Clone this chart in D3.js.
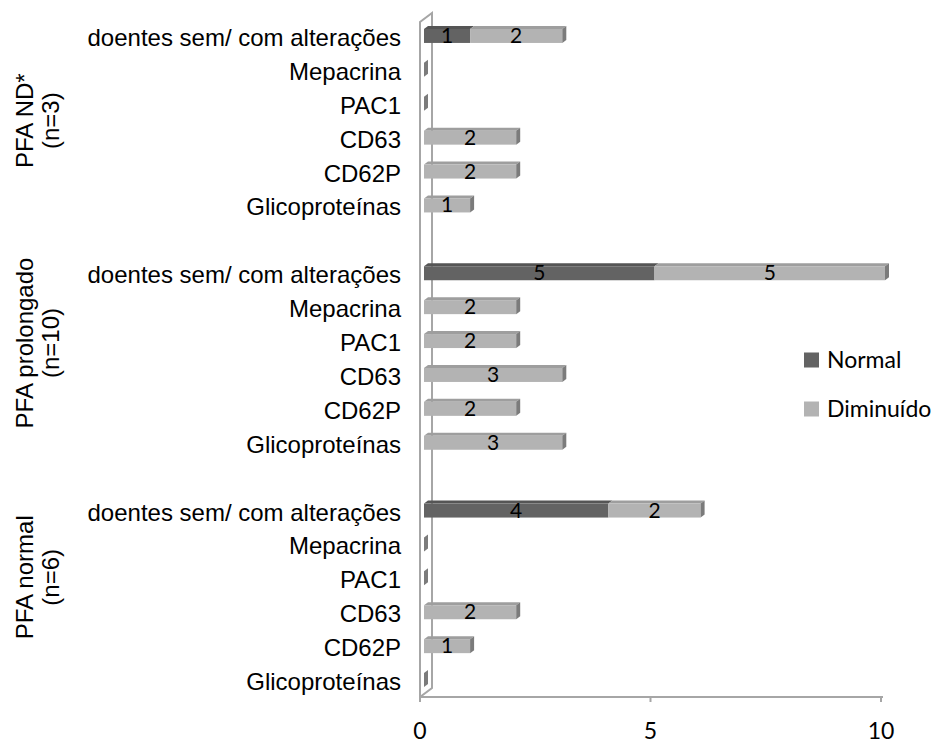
<!DOCTYPE html>
<html>
<head>
<meta charset="utf-8">
<script src="https://cdn.jsdelivr.net/npm/d3@7"></script>
<style>
  body { margin: 0; background: #fff; }
  svg { display: block; }
</style>
</head>
<body>
<svg id="chart"></svg>
<script>
// data
const groupNames = ["PFA ND*", "PFA prolongado", "PFA normal"]
const groupN = ["(n=3)", "(n=10)", "(n=6)"]
const tests = ["doentes sem/ com alterações", "Mepacrina", "PAC1", "CD63", "CD62P", "Glicoproteínas"]
const normal = [
    [1, 0, 0, 0, 0, 0],
    [5, 0, 0, 0, 0, 0],
    [4, 0, 0, 0, 0, 0]
]
const diminuido = [
    [2, 0, 0, 2, 2, 1],
    [5, 2, 2, 3, 2, 3],
    [2, 0, 0, 2, 1, 0]
]
const seriesNames = ["Normal", "Diminuído"]
const xTicks = [0, 5, 10]

const width = 941
const height = 743

const svg = d3.select("#chart")
    .attr("width", width)
    .attr("height", height)

// rows: group by group, with an empty slot between groups
const rows = []
const keys = []
groupNames.forEach((g, gi) => {
    tests.forEach((t, ti) => {
        const key = gi + "-" + ti
        keys.push(key)
        rows.push({ key: key, group: gi, test: t, normal: normal[gi][ti], dim: diminuido[gi][ti] })
    })
    if (gi < groupNames.length - 1) keys.push("gap-" + gi)
})

const x = d3.scaleLinear().domain([0, 10]).range([420, 881])
const y = d3.scaleBand().domain(keys).range([19, 697])
const cy = k => y(k) + y.bandwidth() / 2

const dx = 4, dy = 3     // bar depth
const barOff = 4         // bars sit a bit behind the front floor
const half = 7           // half height of the front face
const depthX = 12, depthY = 9  // wall depth
const groupNudge = [0, -15, -18] // Excel does not quite centre the group labels

const colors = {
    Normal: { front: "#636363", top: "#555555", side: "#4a4a4a" },
    "Diminuído": { front: "#b3b3b3", top: "#9e9e9e", side: "#7b7b7b" }
}
const gridColor = "#a6a6a6"

// back wall
const y0 = y.range()[0], y1 = y.range()[1]
svg.append("path")
    .attr("d", `M${x(0)},${y1} L${x(0)},${y0 + 3} L${x(0) + depthX},${y0 + 3 - depthY} L${x(0) + depthX},${y1 - depthY} Z`)
    .attr("fill", "none")
    .attr("stroke", gridColor)
    .attr("stroke-width", 2)

// x axis
svg.append("line")
    .attr("x1", x(0)).attr("x2", x(10) + 2)
    .attr("y1", y1).attr("y2", y1)
    .attr("stroke", gridColor).attr("stroke-width", 2)

svg.selectAll(".tick")
    .data(xTicks)
    .enter().append("line")
    .attr("x1", d => x(d)).attr("x2", d => x(d))
    .attr("y1", y1).attr("y2", y1 + 5)
    .attr("stroke", gridColor).attr("stroke-width", 2)

svg.selectAll(".tickLabel")
    .data(xTicks)
    .enter().append("text")
    .attr("x", d => x(d))
    .attr("y", y1 + 42)
    .attr("text-anchor", "middle")
    .attr("font-family", "Lato, sans-serif")
    .attr("font-size", 23)
    .attr("fill", "#000")
    .text(d => d)

// bars
const bx = v => x(v) + barOff
const segs = []
rows.forEach(r => {
    segs.push({ row: r, s: "Normal", v0: 0, v1: r.normal, val: r.normal })
    segs.push({ row: r, s: "Diminuído", v0: r.normal, v1: r.normal + r.dim, val: r.dim })
})

const barG = svg.append("g")
segs.filter(d => d.val > 0).forEach(d => {
    const c = cy(d.row.key)
    const xa = bx(d.v0), xb = bx(d.v1)
    barG.append("path")
        .attr("d", `M${xa},${c - half} L${xb},${c - half} L${xb + dx},${c - half - dy} L${xa + dx},${c - half - dy} Z`)
        .attr("fill", colors[d.s].top)
    barG.append("rect")
        .attr("x", xa).attr("y", c - half)
        .attr("width", xb - xa).attr("height", half * 2)
        .attr("fill", colors[d.s].front)
})

// end faces (also visible for empty rows)
rows.forEach(r => {
    const c = cy(r.key)
    const xe = bx(r.normal + r.dim)
    const s = r.dim > 0 || r.normal === 0 ? "Diminuído" : "Normal"
    barG.append("path")
        .attr("d", `M${xe},${c - half} L${xe + dx},${c - half - dy} L${xe + dx},${c + half - dy} L${xe},${c + half} Z`)
        .attr("fill", colors[s].side)
})

// data labels
svg.selectAll(".dataLabel")
    .data(segs.filter(d => d.val > 0))
    .enter().append("text")
    .attr("x", d => bx((d.v0 + d.v1) / 2))
    .attr("y", d => cy(d.row.key) + 7)
    .attr("text-anchor", "middle")
    .attr("font-family", "Lato, sans-serif")
    .attr("font-size", 21)
    .attr("fill", "#000")
    .text(d => d.val)

// category labels
svg.selectAll(".catLabel")
    .data(rows)
    .enter().append("text")
    .attr("x", 401)
    .attr("y", d => cy(d.key) + 10)
    .attr("text-anchor", "end")
    .attr("font-family", "'Liberation Sans', Arial, sans-serif")
    .attr("font-size", 24)
    .attr("fill", "#000")
    .text(d => d.test)

// group labels (rotated, two lines)
groupNames.forEach((g, gi) => {
    const mid = (cy(gi + "-0") + cy(gi + "-" + (tests.length - 1))) / 2 + groupNudge[gi]
    const t = svg.append("text")
        .attr("transform", `translate(33,${mid}) rotate(-90)`)
        .attr("text-anchor", "middle")
        .attr("font-family", "'Liberation Sans', Arial, sans-serif")
        .attr("font-size", 24)
        .attr("fill", "#000")
    t.append("tspan").attr("x", 0).attr("y", 0).text(g)
    t.append("tspan").attr("x", 0).attr("y", 26).text(groupN[gi])
})

// legend
const legend = svg.selectAll(".legend")
    .data(seriesNames)
    .enter().append("g")
    .attr("transform", (d, i) => `translate(804,${360 + i * 49})`)

legend.append("rect")
    .attr("x", 0).attr("y", -7.5)
    .attr("width", 15).attr("height", 15)
    .attr("fill", d => colors[d].front)

legend.append("text")
    .attr("x", 23)
    .attr("y", 8)
    .attr("font-family", "Lato, sans-serif")
    .attr("font-size", 23)
    .attr("fill", "#000")
    .text(d => d)
</script>
</body>
</html>
